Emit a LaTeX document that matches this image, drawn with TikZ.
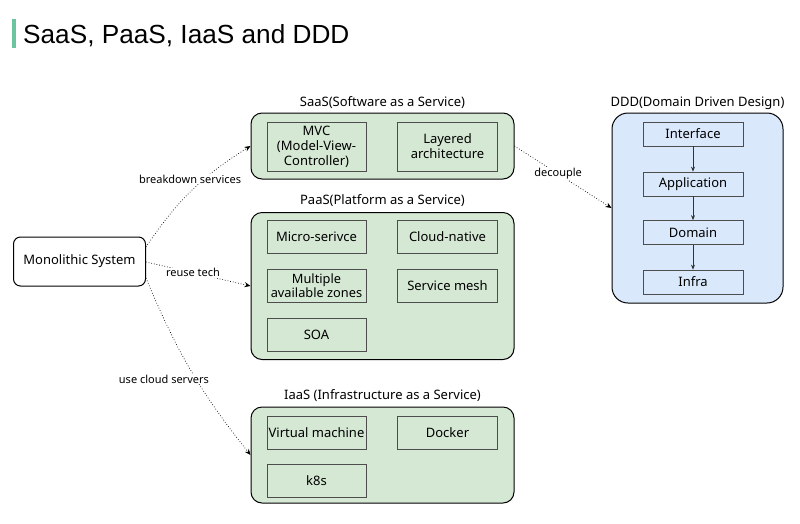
\documentclass[tikz,border=0pt]{standalone}
\usepackage{fontspec}
\setmainfont{Noto Sans}
\newfontfamily\titlefont{Liberation Sans}
\usetikzlibrary{arrows.meta}
\definecolor{gfill}{HTML}{D5E8D4}
\definecolor{bfill}{HTML}{DAE8FC}
\definecolor{bar}{HTML}{6CC4A0}
\definecolor{inborder}{HTML}{4D4D4D}
\begin{document}
\begin{tikzpicture}[x=1pt,y=-1pt,
  font=\fontsize{13}{15}\selectfont,
  group/.style={draw=black,line width=1pt,rounded corners=11pt,inner sep=0pt},
  inbox/.style={draw=inborder,line width=0.7pt,inner sep=0pt,align=center},
  conn/.style={dotted,line width=0.7pt,-{Stealth[length=6pt,width=5pt]}},
  elabel/.style={fill=white,inner sep=1pt,font=\fontsize{11}{13}\selectfont},
  ttl/.style={font=\fontsize{13}{15}\selectfont}]
\useasboundingbox (0,0) rectangle (800,523);
% title
\fill[bar] (12,19) rectangle (15.5,48);
\node[anchor=base west,inner sep=0pt,font=\titlefont\fontsize{26.2}{30}\selectfont] (title) at (23,43) {SaaS, PaaS, IaaS and DDD};
% monolithic
\node[draw=black,line width=1pt,rounded corners=7pt,minimum width=132pt,minimum height=49pt,inner sep=0pt] (mono) at (79.5,261.5) {Monolithic System};
% SaaS
\node[group,fill=gfill,minimum width=263pt,minimum height=66pt] (saas) at (382.5,146) {};
\node[ttl] (saasl) at (382.5,103) {SaaS(Software as a Service)};
\node[inbox,fill=gfill,minimum width=99pt,minimum height=49pt] (mvc) at (316.5,146.5) {MVC\\(Model-View-\\Controller)};
\node[inbox,fill=gfill,minimum width=100pt,minimum height=49pt] (layer) at (447.5,146.5) {Layered\\architecture};
% PaaS
\node[group,fill=gfill,minimum width=263pt,minimum height=147pt] (paas) at (382.5,286) {};
\node[ttl] (paasl) at (382.5,201) {PaaS(Platform as a Service)};
\node[inbox,fill=gfill,minimum width=99pt,minimum height=33pt] (micro) at (316.5,237) {Micro-serivce};
\node[inbox,fill=gfill,minimum width=100pt,minimum height=33pt] (cloud) at (447.5,237) {Cloud-native};
\node[inbox,fill=gfill,minimum width=99pt,minimum height=33pt,font=\fontsize{12.8}{14}\selectfont] (multi) at (316.5,285.5) {Multiple\\available zones};
\node[inbox,fill=gfill,minimum width=100pt,minimum height=33pt] (mesh) at (447.5,285.5) {Service mesh};
\node[inbox,fill=gfill,minimum width=99pt,minimum height=33pt] (soa) at (316.5,334.5) {SOA};
% IaaS
\node[group,fill=gfill,minimum width=263pt,minimum height=96pt] (iaas) at (382.5,455) {};
\node[ttl] (iaasl) at (382.5,396) {IaaS (Infrastructure as a Service)};
\node[inbox,fill=gfill,minimum width=99pt,minimum height=33pt] (vm) at (316.5,432.5) {Virtual machine};
\node[inbox,fill=gfill,minimum width=100pt,minimum height=33pt] (docker) at (447.5,432.5) {Docker};
\node[inbox,fill=gfill,minimum width=99pt,minimum height=33pt] (k8s) at (316.5,481) {k8s};
% DDD
\node[group,fill=bfill,rounded corners=16pt,minimum width=171pt,minimum height=190pt] (ddd) at (697.5,208) {};
\node[ttl] (dddl) at (697.5,103) {DDD(Domain Driven Design)};
\node[inbox,fill=bfill,minimum width=100pt,minimum height=24pt] (intf) at (693,134) {Interface};
\node[inbox,fill=bfill,minimum width=100pt,minimum height=24pt] (app) at (693,184) {Application};
\node[inbox,fill=bfill,minimum width=100pt,minimum height=24pt] (dom) at (693,232.5) {Domain};
\node[inbox,fill=bfill,minimum width=100pt,minimum height=24pt] (infra) at (693,282) {Infra};
\draw[line width=0.7pt,draw=black!80,-{Stealth[length=5pt,width=4pt]}] (intf) -- (app);
\draw[line width=0.7pt,draw=black!80,-{Stealth[length=5pt,width=4pt]}] (app) -- (dom);
\draw[line width=0.7pt,draw=black!80,-{Stealth[length=5pt,width=4pt]}] (dom) -- (infra);
% connectors
\coordinate (m1) at (146,247);
\coordinate (m2) at (146,262);
\coordinate (m3) at (146,278);
\draw[conn] (m1) to[bend left=12] node[elabel,pos=0.62,xshift=-14pt] {breakdown services} (saas.west);
\draw[conn] (m2) -- node[elabel,pos=0.45] {reuse tech} (paas.west);
\draw[conn] (m3) to[bend right=8] node[elabel,pos=0.55,xshift=-32pt] {use cloud servers} (iaas.west);
\draw[conn] (saas.east) -- node[elabel,pos=0.45] {decouple} (ddd.west);
\end{tikzpicture}
\end{document}
